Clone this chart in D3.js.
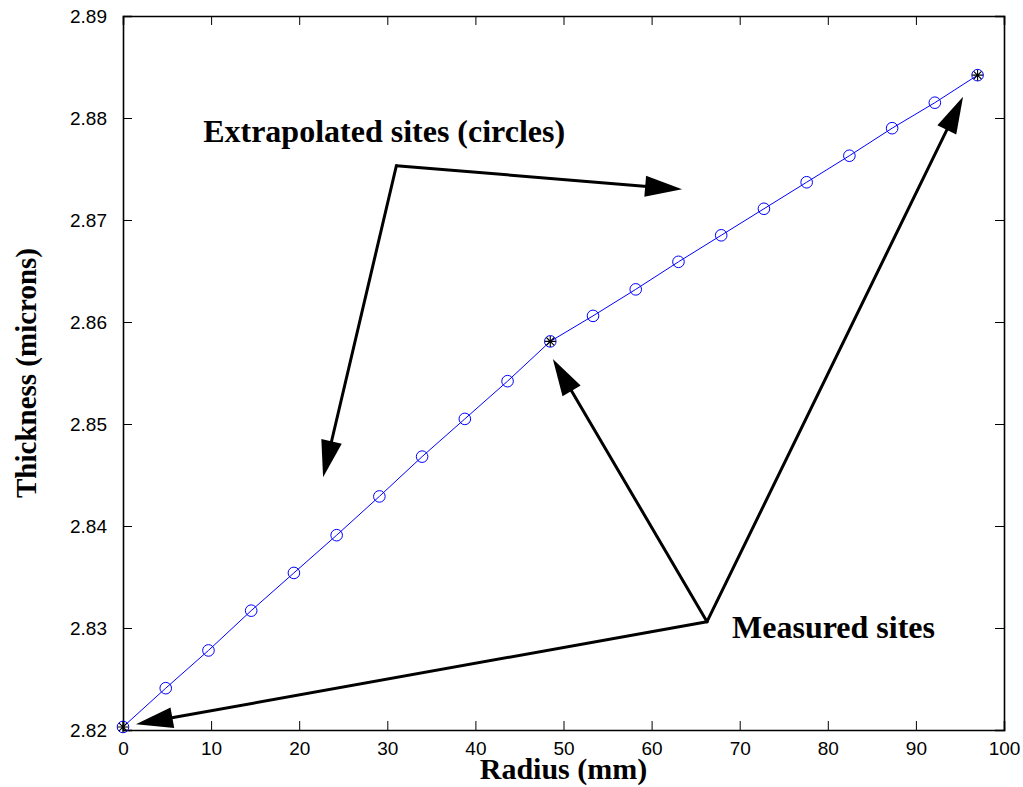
<!DOCTYPE html>
<html>
<head>
<meta charset="utf-8">
<script src="https://cdn.jsdelivr.net/npm/d3@7"></script>
<style>
  body { margin: 0; background: #fff; }
  svg { display: block; }
</style>
</head>
<body>
<script>
// chart size and plot box
const width = 1023,
  height = 787,
  margin = { top: 16, right: 19, bottom: 57, left: 123 };

// radius (mm) of every site along the wafer
const radius = [0, 4.85, 9.7, 14.55, 19.4, 24.25, 29.1, 33.95, 38.8, 43.65, 48.5,
  53.35, 58.2, 63.05, 67.9, 72.75, 77.6, 82.45, 87.3, 92.15, 97];
// thickness (microns)
const thickness = [2.8203, 2.8241, 2.8278, 2.8317, 2.8354, 2.8391, 2.8429, 2.8468,
  2.8505, 2.8542, 2.8581, 2.8606, 2.8632, 2.8659, 2.8685, 2.8711, 2.8737, 2.8763,
  2.8790, 2.8815, 2.8842];
// which sites were really measured (the rest are extrapolated)
const measuredIdx = [0, 10, 20];

const xTicks = [0, 10, 20, 30, 40, 50, 60, 70, 80, 90, 100];
const yTicks = [2.82, 2.83, 2.84, 2.85, 2.86, 2.87, 2.88, 2.89];

// annotation labels and arrows (in data units)
const labels = [
  { text: "Extrapolated sites (circles)", x: 9.1, y: 2.87768 },
  { text: "Measured sites", x: 69.13, y: 2.82902 }
];
const arrows = [
  { from: [31.03, 2.87532], to: [63.46, 2.87301] },
  { from: [31.03, 2.87532], to: [22.71, 2.84477] },
  { from: [66.29, 2.83062], to: [1.47, 2.82056] },
  { from: [66.29, 2.83062], to: [48.79, 2.85637] },
  { from: [66.29, 2.83062], to: [95.35, 2.88209] }
];

const xScale = d3.scaleLinear()
  .domain([0, 100])
  .range([margin.left, width - margin.right]);

const yScale = d3.scaleLinear()
  .domain([2.82, 2.89])
  .range([height - margin.bottom, margin.top]);

const svg = d3.select("body")
  .append("svg")
  .attr("width", width)
  .attr("height", height);

const tickFont = "'Liberation Sans', Arial, sans-serif";
const titleFont = "'Liberation Serif', 'Times New Roman', serif";

// axes: ticks point inward, mirrored on top and right
const tickLen = 9;
const xAxisB = d3.axisBottom(xScale).tickValues(xTicks).tickSize(-tickLen).tickPadding(12);
const xAxisT = d3.axisTop(xScale).tickValues(xTicks).tickSize(-tickLen).tickFormat("");
const yAxisL = d3.axisLeft(yScale).tickValues(yTicks).tickSize(-tickLen).tickPadding(16)
  .tickFormat(d3.format(".2f"));
const yAxisR = d3.axisRight(yScale).tickValues(yTicks).tickSize(-tickLen).tickFormat("");

svg.append("g")
  .attr("transform", `translate(0,${height - margin.bottom})`)
  .call(xAxisB);
svg.append("g")
  .attr("transform", `translate(0,${margin.top})`)
  .call(xAxisT);
svg.append("g")
  .attr("transform", `translate(${margin.left},0)`)
  .call(yAxisL);
svg.append("g")
  .attr("transform", `translate(${width - margin.right},0)`)
  .call(yAxisR);

svg.selectAll(".domain").attr("stroke", "#000").attr("stroke-width", 1.6);
svg.selectAll(".tick line").attr("stroke", "#000").attr("stroke-width", 1);
svg.selectAll(".tick text")
  .attr("font-family", tickFont)
  .attr("font-size", 19)
  .attr("fill", "#000");

// axis titles
svg.append("text")
  .attr("x", (xScale(0) + xScale(100)) / 2)
  .attr("y", height - 8)
  .attr("text-anchor", "middle")
  .attr("font-family", titleFont)
  .attr("font-weight", "bold")
  .attr("font-size", 30)
  .text("Radius (mm)");

svg.append("text")
  .attr("transform", `translate(36,${(yScale(2.82) + yScale(2.89)) / 2}) rotate(-90)`)
  .attr("text-anchor", "middle")
  .attr("font-family", titleFont)
  .attr("font-weight", "bold")
  .attr("font-size", 29)
  .text("Thickness (microns)");

// data line
const points = radius.map((r, i) => ({ r: r, t: thickness[i] }));

const line = d3.line()
  .x(d => xScale(d.r))
  .y(d => yScale(d.t));

svg.append("path")
  .datum(points)
  .attr("fill", "none")
  .attr("stroke", "#0000ff")
  .attr("stroke-width", 1)
  .attr("d", line);

// circle markers on every site
svg.selectAll("circle.site")
  .data(points)
  .enter()
  .append("circle")
  .attr("class", "site")
  .attr("cx", d => xScale(d.r))
  .attr("cy", d => yScale(d.t))
  .attr("r", 5.8)
  .attr("fill", "none")
  .attr("stroke", "#0000ff")
  .attr("stroke-width", 1);

// asterisks on measured sites (8 spokes like matlab's '*')
const s = 5.5, k = s * Math.SQRT1_2;
const starPath = `M${-s},0L${s},0M0,${-s}L0,${s}M${-k},${-k}L${k},${k}M${-k},${k}L${k},${-k}`;
svg.selectAll("path.measured")
  .data(measuredIdx.map(i => points[i]))
  .enter()
  .append("path")
  .attr("class", "measured")
  .attr("transform", d => `translate(${xScale(d.r)},${yScale(d.t)})`)
  .attr("d", starPath)
  .attr("stroke", "#000")
  .attr("stroke-width", 1.1)
  .attr("fill", "none");

// annotation text
svg.selectAll("text.note")
  .data(labels)
  .enter()
  .append("text")
  .attr("class", "note")
  .attr("x", d => xScale(d.x))
  .attr("y", d => yScale(d.y))
  .attr("font-family", titleFont)
  .attr("font-weight", "bold")
  .attr("font-size", 32)
  .text(d => d.text);

// arrows: shaft + filled triangular head
const headLen = 37, headHalf = 10.5;
arrows.forEach(a => {
  const x1 = xScale(a.from[0]), y1 = yScale(a.from[1]);
  const x2 = xScale(a.to[0]), y2 = yScale(a.to[1]);
  const dx = x2 - x1, dy = y2 - y1;
  const len = Math.hypot(dx, dy);
  const ux = dx / len, uy = dy / len;
  const bx = x2 - ux * headLen, by = y2 - uy * headLen;
  svg.append("line")
    .attr("x1", x1).attr("y1", y1)
    .attr("x2", bx + ux * 2).attr("y2", by + uy * 2)
    .attr("stroke", "#000")
    .attr("stroke-width", 3)
    .attr("stroke-linecap", "round");
  svg.append("polygon")
    .attr("points", [
      [x2, y2],
      [bx - uy * headHalf, by + ux * headHalf],
      [bx + uy * headHalf, by - ux * headHalf]
    ].map(p => p.join(",")).join(" "))
    .attr("fill", "#000");
});
</script>
</body>
</html>
